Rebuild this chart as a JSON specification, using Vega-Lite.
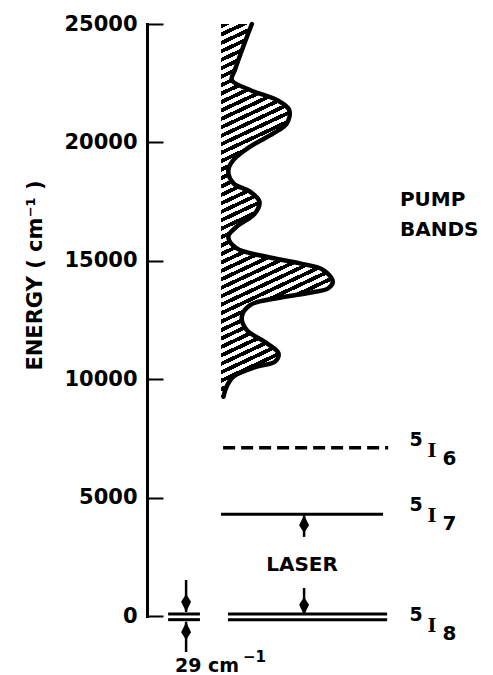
{
  "$schema": "https://vega.github.io/schema/vega-lite/v6.json",
  "autosize": "none",
  "width": 346,
  "height": 592,
  "padding": {"left": 147, "top": 24, "right": 0, "bottom": 59},
  "background": "white",
  "config": {"view": {"stroke": null}},
  "layer": [
    {
      "data": {"values": [
        {"energy": 25000, "x": 30.3}, {"energy": 24040, "x": 27.8}, {"energy": 23060, "x": 25.4},
        {"energy": 22635, "x": 24.5}, {"energy": 22210, "x": 29.8}, {"energy": 21790, "x": 37.5},
        {"energy": 21370, "x": 41.1}, {"energy": 20800, "x": 40.4}, {"energy": 20380, "x": 36.5},
        {"energy": 19820, "x": 29.8}, {"energy": 19260, "x": 25.0}, {"energy": 18830, "x": 23.5},
        {"energy": 18270, "x": 25.0}, {"energy": 17920, "x": 29.8}, {"energy": 17500, "x": 32.5},
        {"energy": 17000, "x": 31.2}, {"energy": 16440, "x": 25.9}, {"energy": 16020, "x": 23.5},
        {"energy": 15530, "x": 25.9}, {"energy": 15170, "x": 34.6}, {"energy": 14890, "x": 44.2},
        {"energy": 14610, "x": 51.0}, {"energy": 14120, "x": 53.7}, {"energy": 13840, "x": 52.4},
        {"energy": 13630, "x": 46.2}, {"energy": 13420, "x": 37.5}, {"energy": 13130, "x": 29.8},
        {"energy": 12640, "x": 27.4}, {"energy": 12080, "x": 28.8}, {"energy": 11520, "x": 34.6},
        {"energy": 11090, "x": 38.0}, {"energy": 10740, "x": 37.0}, {"energy": 10530, "x": 31.7},
        {"energy": 10110, "x": 25.0}, {"energy": 9680, "x": 23.0}, {"energy": 9260, "x": 22.1}
      ]},
      "layer": [
        {
          "mark": {
            "type": "area", "orient": "horizontal", "interpolate": "catmull-rom",
            "fill": {
              "gradient": "linear", "x1": 0, "y1": 0, "x2": 0.14, "y2": 1,
              "stops": [
                {"offset": 0, "color": "#000"}, {"offset": 0.0111, "color": "#000"}, {"offset": 0.0111, "color": "#fff"}, {"offset": 0.0222, "color": "#fff"},
                {"offset": 0.0222, "color": "#000"}, {"offset": 0.0333, "color": "#000"}, {"offset": 0.0333, "color": "#fff"}, {"offset": 0.0444, "color": "#fff"},
                {"offset": 0.0444, "color": "#000"}, {"offset": 0.0556, "color": "#000"}, {"offset": 0.0556, "color": "#fff"}, {"offset": 0.0667, "color": "#fff"},
                {"offset": 0.0667, "color": "#000"}, {"offset": 0.0778, "color": "#000"}, {"offset": 0.0778, "color": "#fff"}, {"offset": 0.0889, "color": "#fff"},
                {"offset": 0.0889, "color": "#000"}, {"offset": 0.1, "color": "#000"}, {"offset": 0.1, "color": "#fff"}, {"offset": 0.1111, "color": "#fff"},
                {"offset": 0.1111, "color": "#000"}, {"offset": 0.1222, "color": "#000"}, {"offset": 0.1222, "color": "#fff"}, {"offset": 0.1333, "color": "#fff"},
                {"offset": 0.1333, "color": "#000"}, {"offset": 0.1444, "color": "#000"}, {"offset": 0.1444, "color": "#fff"}, {"offset": 0.1556, "color": "#fff"},
                {"offset": 0.1556, "color": "#000"}, {"offset": 0.1667, "color": "#000"}, {"offset": 0.1667, "color": "#fff"}, {"offset": 0.1778, "color": "#fff"},
                {"offset": 0.1778, "color": "#000"}, {"offset": 0.1889, "color": "#000"}, {"offset": 0.1889, "color": "#fff"}, {"offset": 0.2, "color": "#fff"},
                {"offset": 0.2, "color": "#000"}, {"offset": 0.2111, "color": "#000"}, {"offset": 0.2111, "color": "#fff"}, {"offset": 0.2222, "color": "#fff"},
                {"offset": 0.2222, "color": "#000"}, {"offset": 0.2333, "color": "#000"}, {"offset": 0.2333, "color": "#fff"}, {"offset": 0.2444, "color": "#fff"},
                {"offset": 0.2444, "color": "#000"}, {"offset": 0.2556, "color": "#000"}, {"offset": 0.2556, "color": "#fff"}, {"offset": 0.2667, "color": "#fff"},
                {"offset": 0.2667, "color": "#000"}, {"offset": 0.2778, "color": "#000"}, {"offset": 0.2778, "color": "#fff"}, {"offset": 0.2889, "color": "#fff"},
                {"offset": 0.2889, "color": "#000"}, {"offset": 0.3, "color": "#000"}, {"offset": 0.3, "color": "#fff"}, {"offset": 0.3111, "color": "#fff"},
                {"offset": 0.3111, "color": "#000"}, {"offset": 0.3222, "color": "#000"}, {"offset": 0.3222, "color": "#fff"}, {"offset": 0.3333, "color": "#fff"},
                {"offset": 0.3333, "color": "#000"}, {"offset": 0.3444, "color": "#000"}, {"offset": 0.3444, "color": "#fff"}, {"offset": 0.3556, "color": "#fff"},
                {"offset": 0.3556, "color": "#000"}, {"offset": 0.3667, "color": "#000"}, {"offset": 0.3667, "color": "#fff"}, {"offset": 0.3778, "color": "#fff"},
                {"offset": 0.3778, "color": "#000"}, {"offset": 0.3889, "color": "#000"}, {"offset": 0.3889, "color": "#fff"}, {"offset": 0.4, "color": "#fff"},
                {"offset": 0.4, "color": "#000"}, {"offset": 0.4111, "color": "#000"}, {"offset": 0.4111, "color": "#fff"}, {"offset": 0.4222, "color": "#fff"},
                {"offset": 0.4222, "color": "#000"}, {"offset": 0.4333, "color": "#000"}, {"offset": 0.4333, "color": "#fff"}, {"offset": 0.4444, "color": "#fff"},
                {"offset": 0.4444, "color": "#000"}, {"offset": 0.4556, "color": "#000"}, {"offset": 0.4556, "color": "#fff"}, {"offset": 0.4667, "color": "#fff"},
                {"offset": 0.4667, "color": "#000"}, {"offset": 0.4778, "color": "#000"}, {"offset": 0.4778, "color": "#fff"}, {"offset": 0.4889, "color": "#fff"},
                {"offset": 0.4889, "color": "#000"}, {"offset": 0.5, "color": "#000"}, {"offset": 0.5, "color": "#fff"}, {"offset": 0.5111, "color": "#fff"},
                {"offset": 0.5111, "color": "#000"}, {"offset": 0.5222, "color": "#000"}, {"offset": 0.5222, "color": "#fff"}, {"offset": 0.5333, "color": "#fff"},
                {"offset": 0.5333, "color": "#000"}, {"offset": 0.5444, "color": "#000"}, {"offset": 0.5444, "color": "#fff"}, {"offset": 0.5556, "color": "#fff"},
                {"offset": 0.5556, "color": "#000"}, {"offset": 0.5667, "color": "#000"}, {"offset": 0.5667, "color": "#fff"}, {"offset": 0.5778, "color": "#fff"},
                {"offset": 0.5778, "color": "#000"}, {"offset": 0.5889, "color": "#000"}, {"offset": 0.5889, "color": "#fff"}, {"offset": 0.6, "color": "#fff"},
                {"offset": 0.6, "color": "#000"}, {"offset": 0.6111, "color": "#000"}, {"offset": 0.6111, "color": "#fff"}, {"offset": 0.6222, "color": "#fff"},
                {"offset": 0.6222, "color": "#000"}, {"offset": 0.6333, "color": "#000"}, {"offset": 0.6333, "color": "#fff"}, {"offset": 0.6444, "color": "#fff"},
                {"offset": 0.6444, "color": "#000"}, {"offset": 0.6556, "color": "#000"}, {"offset": 0.6556, "color": "#fff"}, {"offset": 0.6667, "color": "#fff"},
                {"offset": 0.6667, "color": "#000"}, {"offset": 0.6778, "color": "#000"}, {"offset": 0.6778, "color": "#fff"}, {"offset": 0.6889, "color": "#fff"},
                {"offset": 0.6889, "color": "#000"}, {"offset": 0.7, "color": "#000"}, {"offset": 0.7, "color": "#fff"}, {"offset": 0.7111, "color": "#fff"},
                {"offset": 0.7111, "color": "#000"}, {"offset": 0.7222, "color": "#000"}, {"offset": 0.7222, "color": "#fff"}, {"offset": 0.7333, "color": "#fff"},
                {"offset": 0.7333, "color": "#000"}, {"offset": 0.7444, "color": "#000"}, {"offset": 0.7444, "color": "#fff"}, {"offset": 0.7556, "color": "#fff"},
                {"offset": 0.7556, "color": "#000"}, {"offset": 0.7667, "color": "#000"}, {"offset": 0.7667, "color": "#fff"}, {"offset": 0.7778, "color": "#fff"},
                {"offset": 0.7778, "color": "#000"}, {"offset": 0.7889, "color": "#000"}, {"offset": 0.7889, "color": "#fff"}, {"offset": 0.8, "color": "#fff"},
                {"offset": 0.8, "color": "#000"}, {"offset": 0.8111, "color": "#000"}, {"offset": 0.8111, "color": "#fff"}, {"offset": 0.8222, "color": "#fff"},
                {"offset": 0.8222, "color": "#000"}, {"offset": 0.8333, "color": "#000"}, {"offset": 0.8333, "color": "#fff"}, {"offset": 0.8444, "color": "#fff"},
                {"offset": 0.8444, "color": "#000"}, {"offset": 0.8556, "color": "#000"}, {"offset": 0.8556, "color": "#fff"}, {"offset": 0.8667, "color": "#fff"},
                {"offset": 0.8667, "color": "#000"}, {"offset": 0.8778, "color": "#000"}, {"offset": 0.8778, "color": "#fff"}, {"offset": 0.8889, "color": "#fff"},
                {"offset": 0.8889, "color": "#000"}, {"offset": 0.9, "color": "#000"}, {"offset": 0.9, "color": "#fff"}, {"offset": 0.9111, "color": "#fff"},
                {"offset": 0.9111, "color": "#000"}, {"offset": 0.9222, "color": "#000"}, {"offset": 0.9222, "color": "#fff"}, {"offset": 0.9333, "color": "#fff"},
                {"offset": 0.9333, "color": "#000"}, {"offset": 0.9444, "color": "#000"}, {"offset": 0.9444, "color": "#fff"}, {"offset": 0.9556, "color": "#fff"},
                {"offset": 0.9556, "color": "#000"}, {"offset": 0.9667, "color": "#000"}, {"offset": 0.9667, "color": "#fff"}, {"offset": 0.9778, "color": "#fff"},
                {"offset": 0.9778, "color": "#000"}, {"offset": 0.9889, "color": "#000"}, {"offset": 0.9889, "color": "#fff"}, {"offset": 1, "color": "#fff"}
              ]
            }
          },
          "encoding": {
            "y": {
              "field": "energy", "type": "quantitative",
              "scale": {"domain": [0, 25000], "nice": false, "zero": false},
              "axis": {
                "values": [0, 5000, 10000, 15000, 20000, 25000],
                "format": "d",
                "grid": false,
                "domainColor": "black", "domainWidth": 3, "domainCap": "square",
                "tickColor": "black", "tickWidth": 2, "tickSize": -16,
                "labelPadding": 26, "labelColor": "black",
                "labelFont": "DejaVu Sans", "labelFontWeight": "bold", "labelFontSize": 21,
                "title": "ENERGY ( cm⁻¹ )",
                "titleFont": "DejaVu Sans", "titleFontWeight": "bold", "titleFontSize": 21,
                "titleColor": "black", "titlePadding": 18, "titleY": 251
              }
            },
            "x": {"field": "x", "type": "quantitative", "stack": null,
                  "scale": {"domain": [0, 100], "nice": false, "zero": false}, "axis": null},
            "x2": {"datum": 21.4}
          }
        },
        {
          "mark": {"type": "line", "interpolate": "catmull-rom", "stroke": "black", "strokeWidth": 4.5, "strokeCap": "round"},
          "encoding": {
            "y": {"field": "energy", "type": "quantitative"},
            "x": {"field": "x", "type": "quantitative", "axis": null},
            "order": {"field": "energy", "type": "quantitative"}
          }
        }
      ]
    },
    {
      "data": {"values": [
        {"level": "5I6", "energy": 7100, "x1": 22.0, "x2": 69.7}
      ]},
      "mark": {"type": "rule", "stroke": "black", "strokeWidth": 3.5, "strokeDash": [12, 6]},
      "encoding": {
        "y": {"field": "energy", "type": "quantitative"},
        "x": {"field": "x1", "type": "quantitative", "axis": null},
        "x2": {"field": "x2"}
      }
    },
    {
      "data": {"values": [
        {"level": "5I7", "energy": 4300, "x1": 21.4, "x2": 68.2},
        {"level": "5I8 upper", "energy": 85, "x1": 23.4, "x2": 69.4},
        {"level": "5I8 lower", "energy": -155, "x1": 23.4, "x2": 69.4},
        {"level": "29 upper", "energy": 85, "x1": 6.1, "x2": 15.3},
        {"level": "29 lower", "energy": -155, "x1": 6.1, "x2": 15.3}
      ]},
      "mark": {"type": "rule", "stroke": "black", "strokeWidth": 3},
      "encoding": {
        "y": {"field": "energy", "type": "quantitative"},
        "x": {"field": "x1", "type": "quantitative", "axis": null},
        "x2": {"field": "x2"}
      }
    },
    {
      "data": {"values": [
        {"x": 11.3, "e1": 1520, "e2": 170},
        {"x": 11.3, "e1": -240, "e2": -1520},
        {"x": 45.4, "e1": 4300, "e2": 3340},
        {"x": 45.4, "e1": 1180, "e2": 85}
      ]},
      "mark": {"type": "rule", "stroke": "black", "strokeWidth": 2.5},
      "encoding": {
        "y": {"field": "e1", "type": "quantitative"},
        "y2": {"field": "e2"},
        "x": {"field": "x", "type": "quantitative", "axis": null}
      }
    },
    {
      "data": {"values": [
        {"x": 11.3, "energy": 550, "dir": "down"},
        {"x": 11.3, "energy": -630, "dir": "up"},
        {"x": 45.4, "energy": 3885, "dir": "up"},
        {"x": 45.4, "energy": 420, "dir": "down"}
      ]},
      "mark": {"type": "point", "filled": true, "color": "black", "opacity": 1, "size": 324},
      "encoding": {
        "y": {"field": "energy", "type": "quantitative"},
        "x": {"field": "x", "type": "quantitative", "axis": null},
        "shape": {"field": "dir", "type": "nominal", "legend": null,
          "scale": {"domain": ["up", "down"],
                    "range": ["M0,-1L0.55,0.15L0,1L-0.55,0.15Z", "M0,1L0.55,-0.15L0,-1L-0.55,-0.15Z"]}}
      }
    },
    {
      "data": {"values": [
        {"text": "LASER", "x": 44.8, "energy": 2150}
      ]},
      "mark": {"type": "text", "align": "center", "baseline": "middle", "font": "DejaVu Sans", "fontWeight": "bold", "fontSize": 20, "color": "black"},
      "encoding": {
        "y": {"field": "energy", "type": "quantitative"},
        "x": {"field": "x", "type": "quantitative", "axis": null},
        "text": {"field": "text"}
      }
    },
    {
      "data": {"values": [
        {"text": "PUMP", "x": 73.1, "energy": 17570},
        {"text": "BANDS", "x": 73.1, "energy": 16320}
      ]},
      "mark": {"type": "text", "align": "left", "baseline": "middle", "font": "DejaVu Sans", "fontWeight": "bold", "fontSize": 20, "color": "black"},
      "encoding": {
        "y": {"field": "energy", "type": "quantitative"},
        "x": {"field": "x", "type": "quantitative", "axis": null},
        "text": {"field": "text"}
      }
    },
    {
      "data": {"values": [
        {"text": "29 cm", "sup": "−1", "x": 8.1, "energy": -2365}
      ]},
      "layer": [
        {
          "mark": {"type": "text", "align": "left", "baseline": "alphabetic", "font": "DejaVu Sans", "fontWeight": "bold", "fontSize": 19, "color": "black"},
          "encoding": {
            "y": {"field": "energy", "type": "quantitative"},
            "x": {"field": "x", "type": "quantitative", "axis": null},
            "text": {"field": "text"}
          }
        },
        {
          "mark": {"type": "text", "align": "left", "baseline": "alphabetic", "dx": 68, "dy": -10, "font": "DejaVu Sans", "fontWeight": "bold", "fontSize": 15, "color": "black"},
          "encoding": {
            "y": {"field": "energy", "type": "quantitative"},
            "x": {"field": "x", "type": "quantitative", "axis": null},
            "text": {"field": "sup"}
          }
        }
      ]
    },
    {
      "data": {"values": [
        {"term": "5I6", "sup": "5", "main": "I", "sub": "6", "x": 75.9, "energy": 6970},
        {"term": "5I7", "sup": "5", "main": "I", "sub": "7", "x": 75.9, "energy": 4220},
        {"term": "5I8", "sup": "5", "main": "I", "sub": "8", "x": 75.9, "energy": -420}
      ]},
      "layer": [
        {
          "mark": {"type": "text", "align": "left", "baseline": "middle", "dy": -11, "font": "DejaVu Sans", "fontWeight": "bold", "fontSize": 19, "color": "black"},
          "encoding": {
            "y": {"field": "energy", "type": "quantitative"},
            "x": {"field": "x", "type": "quantitative", "axis": null},
            "text": {"field": "sup"}
          }
        },
        {
          "mark": {"type": "text", "align": "left", "baseline": "middle", "dx": 18, "font": "DejaVu Serif", "fontWeight": "bold", "fontSize": 19, "color": "black"},
          "encoding": {
            "y": {"field": "energy", "type": "quantitative"},
            "x": {"field": "x", "type": "quantitative", "axis": null},
            "text": {"field": "main"}
          }
        },
        {
          "mark": {"type": "text", "align": "left", "baseline": "middle", "dx": 33, "dy": 8, "font": "DejaVu Sans", "fontWeight": "bold", "fontSize": 20, "color": "black"},
          "encoding": {
            "y": {"field": "energy", "type": "quantitative"},
            "x": {"field": "x", "type": "quantitative", "axis": null},
            "text": {"field": "sub"}
          }
        }
      ]
    }
  ]
}
